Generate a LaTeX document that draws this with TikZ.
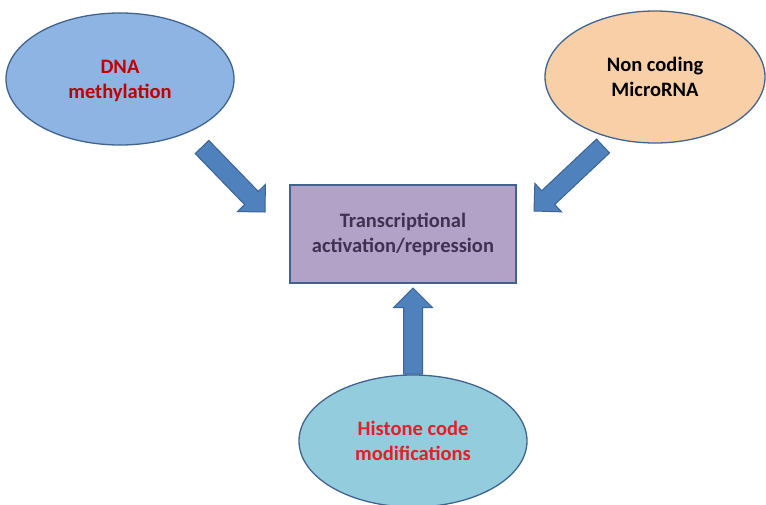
\documentclass[tikz,border=0pt]{standalone}
\usepackage{fontspec}
\setmainfont{Carlito}
\usetikzlibrary{shapes.geometric, calc}
\usepackage{xcolor}
\definecolor{dnafill}{HTML}{8EB4E3}
\definecolor{rnafill}{HTML}{F9CFA8}
\definecolor{histfill}{HTML}{93CDDD}
\definecolor{boxfill}{HTML}{B3A2C7}
\definecolor{shapeline}{HTML}{41648F}
\definecolor{arrowblue}{HTML}{4F81BD}
\definecolor{arrowline}{HTML}{3A6396}
\definecolor{dnared}{HTML}{C00000}
\definecolor{histred}{HTML}{E41E26}
\definecolor{boxtext}{HTML}{403152}

\begin{document}
\begin{tikzpicture}[
    x=1pt, y=-1pt,
    every node/.style={font=\fontsize{20.5}{25}\selectfont\bfseries},
    blob/.style={
        ellipse, draw=shapeline, line width=1.3pt,
        inner sep=0pt, align=center, text depth=0pt,
        minimum width=228pt, minimum height=132pt,
    },
    dnablob/.style={blob, fill=dnafill, text=dnared},
    rnablob/.style={blob, fill=rnafill, text=black, minimum width=220pt},
    histblob/.style={blob, fill=histfill, text=histred},
    tbox/.style={
        rectangle, draw=shapeline, line width=1.3pt, fill=boxfill,
        text=boxtext, align=center,
        minimum width=226pt, minimum height=98pt,
    },
    % block arrow: shaft 19pt wide, head 39pt wide and 19.5pt long
    blockarrow/.style={
        fill=arrowblue, draw=arrowline, line width=1pt, line join=miter,
        to path={
            ($(\tikztostart)!9.5pt!90:(\tikztotarget)$)
            -- ($(\tikztotarget)!21.69pt!-25.97:(\tikztostart)$)
            -- ($(\tikztotarget)!27.58pt!-45:(\tikztostart)$)
            -- (\tikztotarget)
            -- ($(\tikztotarget)!27.58pt!45:(\tikztostart)$)
            -- ($(\tikztotarget)!21.69pt!25.97:(\tikztostart)$)
            -- ($(\tikztostart)!9.5pt!-90:(\tikztotarget)$)
            -- cycle}
    }
]
\useasboundingbox (0,0) rectangle (766,504);
\clip (0,0) rectangle (766,504);

% Centre box
\node[tbox] (tr) at (403,234)
    {Transcriptional\\activation/repression};

% The three inputs
\node[dnablob] (dna) at (120,79) {DNA\\methylation};
\node[rnablob] (rna) at (655,77) {Non coding\\MicroRNA};
\node[histblob] (hist) at (413,441) {Histone code\\modifications};

% Arrow ends
\coordinate (dnaTail) at (202,147);
\coordinate (dnaTip) at (265,212);
\coordinate (rnaTail) at (603,146);
\coordinate (rnaTip) at (534,211);
\coordinate (histTail) at (413,374);
\coordinate (histTip) at (413,288);

% --- Block arrows into the box ---
\draw[blockarrow] (dnaTail) to (dnaTip);
\draw[blockarrow] (rnaTail) to (rnaTip);
\draw[blockarrow] (histTail) to (histTip);

\end{tikzpicture}
\end{document}
